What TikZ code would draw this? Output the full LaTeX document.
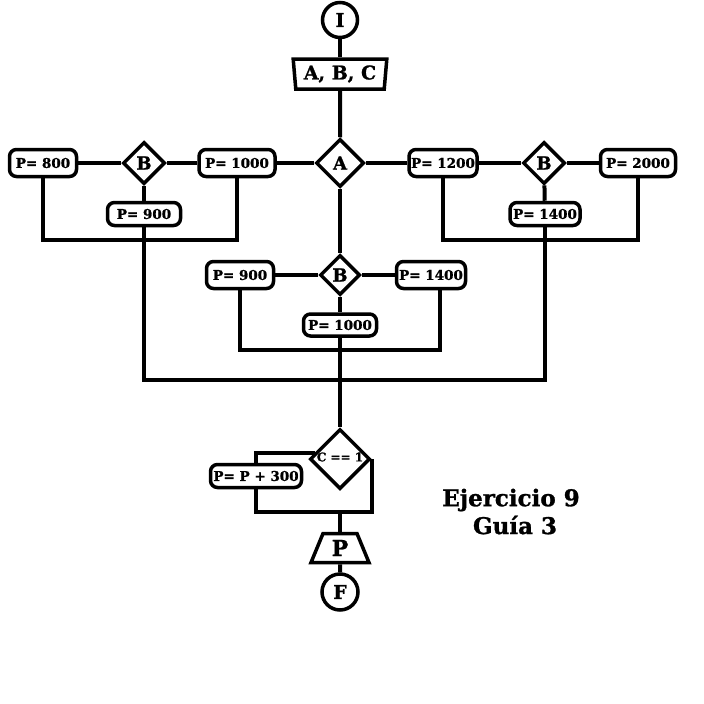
\documentclass[tikz,border=0pt]{standalone}
\usepackage{fontspec}
\setmainfont{DejaVu Serif}[BoldFeatures={FakeBold=1.2}]
\usetikzlibrary{shapes.geometric}
\begin{document}
\begin{tikzpicture}[x=1pt,y=-1pt,line width=4pt,
  box/.style={draw,rounded corners=7pt,line width=3.5pt,inner sep=0pt,minimum height=27pt,font=\bfseries\fontsize{13.5}{13.5}\selectfont},
  dia/.style={draw,diamond,line width=3.5pt,inner sep=0pt,font=\bfseries\fontsize{18}{18}\selectfont},
  term/.style={draw,circle,line width=3.5pt,inner sep=0pt,minimum size=35pt,font=\bfseries\fontsize{19}{19}\selectfont},
  io/.style={draw,trapezium,trapezium stretches=true,line width=3.5pt,inner sep=0pt},
  title/.style={font=\bfseries\fontsize{23}{23}\selectfont}]
\useasboundingbox (0,0) rectangle (704,704);
% nodes
\node[term] (I) at (340,20) {I};
\node[io,shape border rotate=180,trapezium angle=83,minimum width=94pt,minimum height=30pt,font=\bfseries\fontsize{19}{19}\selectfont] (inp) at (340,74) {A, B, C};
\node[dia,minimum size=48pt] (A) at (340,163) {A};
\node[dia,minimum size=42pt] (B1) at (144,163) {B};
\node[dia,minimum size=42pt] (B2) at (544,163) {B};
\node[dia,minimum size=40pt] (B3) at (340,275) {B};
\node[box,minimum width=67pt] (b800) at (43,163) {P= 800};
\node[box,minimum width=76pt] (b1000a) at (237,163) {P= 1000};
\node[box,minimum width=73pt,minimum height=23pt] (b900a) at (144,214) {P= 900};
\node[box,minimum width=68pt] (b1200) at (443,163) {P= 1200};
\node[box,minimum width=75pt] (b2000) at (638,163) {P= 2000};
\node[box,minimum width=70pt,minimum height=23pt] (b1400a) at (545,214) {P= 1400};
\node[box,minimum width=67pt] (b900b) at (240,275) {P= 900};
\node[box,minimum width=69pt] (b1400b) at (431,275) {P= 1400};
\node[box,minimum width=73pt,minimum height=22pt] (b1000b) at (340,325) {P= 1000};
\node[dia,minimum size=60pt] (C) at (340,459) {};
\node[font=\bfseries\fontsize{12}{12}\selectfont,inner sep=0pt] (Ct) at (340,457) {C == 1};
\node[box,minimum width=91pt,minimum height=23pt] (bP300) at (256,476) {P= P + 300};
\node[io,trapezium angle=70,minimum width=58pt,minimum height=29pt,font=\bfseries\fontsize{22}{22}\selectfont] (out) at (340,548) {P};
\node[term,minimum size=36pt] (F) at (340,592) {F};
\node[title] (t1) at (511,500) {Ejercicio 9};
\node[title] (t2) at (515,525) {Guía 3};
% junctions
\coordinate (jL) at (144,240);
\coordinate (jR) at (545,240);
\coordinate (jM) at (340,350);
\coordinate (jMR) at (440,350);
\coordinate (jB) at (340,380);
\coordinate (lb) at (340,512);
% connectors
\draw (I) -- (inp);
\draw (inp) -- (A);
\draw (A) -- (b1000a) -- (B1) -- (b800);
\draw (A) -- (b1200) -- (B2) -- (b2000);
\draw (B1) -- (b900a);
\draw (B2) -- (b1400a);
\draw (b800.south) |- (jL) -| (b1000a.south);
\draw (b1200.south) |- (jR) -| (b2000.south);
\draw (b900a) -- (jL) -- (jL |- jB) -- (jR |- jB) -- (jR) -- (b1400a);
\draw (A) -- (B3);
\draw (B3) -- (b900b);
\draw (B3) -- (b1400b);
\draw (B3) -- (b1000b);
\draw (b900b.south) |- (jMR) -- (jMR |- b1400b.south);
\draw (b1000b) -- (jM) -- (jB) -- (C);
\draw (C.166) -| (bP300.north);
\draw (bP300.south) |- (lb) -| (C.east);
\draw (lb) -- (out);
\draw (out) -- (F);
\end{tikzpicture}
\end{document}
